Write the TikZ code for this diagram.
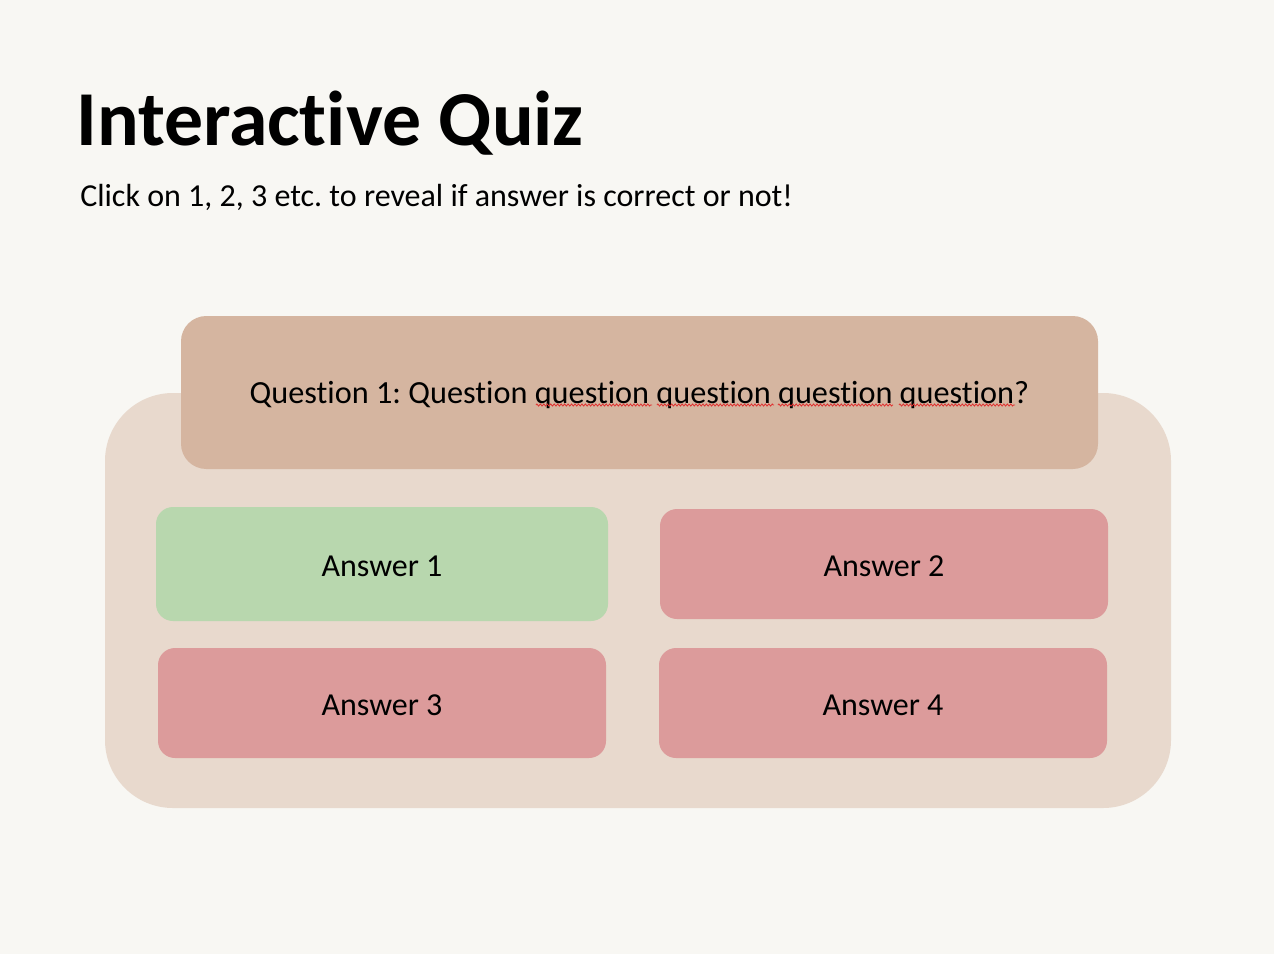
\documentclass[tikz,border=0pt]{standalone}
\usepackage{fontspec}
\setmainfont{Carlito}[Ligatures=NoCommon]
\usetikzlibrary{decorations.pathmorphing}
\definecolor{pagebg}{HTML}{F8F7F3}
\definecolor{panel}{HTML}{E8D9CD}
\definecolor{qbox}{HTML}{D5B5A0}
\definecolor{good}{HTML}{B8D7AE}
\definecolor{bad}{HTML}{DC9B9B}
\definecolor{squig}{HTML}{E03030}
\frenchspacing
\tikzset{
  px/.style={x=0.75pt,y=-0.75pt},
  ansbox/.style={inner sep=0pt, font=\fontsize{24}{28}\selectfont, text=black},
  wavy/.style={draw=squig, line width=0.6pt, decorate, decoration={zigzag, amplitude=0.8pt, segment length=2.6pt}}
}
\begin{document}
\begin{tikzpicture}[px]
\fill[pagebg] (0,0) rectangle (1274,954);
\useasboundingbox (0,0) rectangle (1274,954);
% title and subtitle
\node[anchor=base west, inner sep=0pt, font=\fontsize{58.3}{66}\bfseries\selectfont] (title) at (76,145) {Interactive Quiz};
\node[anchor=base west, inner sep=0pt, font=\fontsize{24}{28}\selectfont] (sub) at (80,206) {Click on 1, 2, 3 etc. to reveal if answer is correct or not!};
% panel
\fill[panel, rounded corners=51pt] (105,393) rectangle (1171,808);
\node[inner sep=0pt] (panel) at (638,600.5) {};
% question box
\fill[qbox, rounded corners=19pt] (181,316) rectangle (1098,469);
\node[anchor=base, inner sep=0pt, font=\fontsize{24.2}{28}\selectfont] (q) at (639.5,403) {Question 1: Question question question question question?};
% spell-check squiggles
\draw[wavy] (536,405) -- (652,405);
\draw[wavy] (657,405) -- (774,405);
\draw[wavy] (778,405) -- (893,405);
\draw[wavy] (899,405) -- (1015,405);
% answers
\fill[good, rounded corners=12.75pt] (156,507) rectangle (608,621);
\node[ansbox, anchor=base] (a1) at (382,576) {Answer 1};
\fill[bad, rounded corners=12.75pt] (660,509) rectangle (1108,619);
\node[ansbox, anchor=base] (a2) at (884,576) {Answer 2};
\fill[bad, rounded corners=12.75pt] (158,648) rectangle (606,758);
\node[ansbox, anchor=base] (a3) at (382,715) {Answer 3};
\fill[bad, rounded corners=12.75pt] (659,648) rectangle (1107,758);
\node[ansbox, anchor=base] (a4) at (883,715) {Answer 4};
\end{tikzpicture}
\end{document}
